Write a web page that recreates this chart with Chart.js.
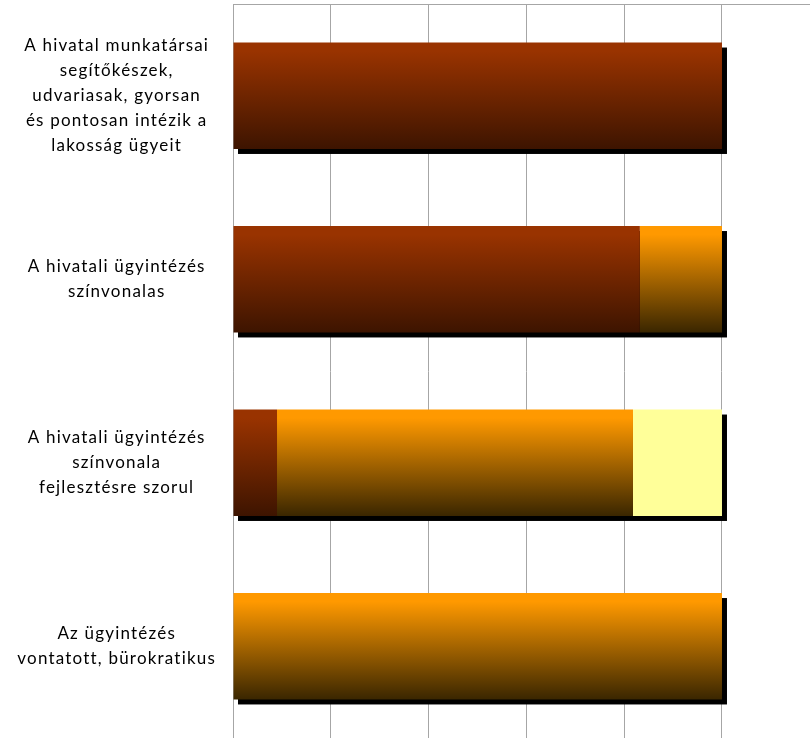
<!DOCTYPE html>
<html>
<head>
<meta charset="utf-8">
<script src="https://cdn.jsdelivr.net/npm/chart.js@4/dist/chart.umd.min.js"></script>
<style>
  html, body { margin: 0; padding: 0; background: #fff; }
  #wrap { width: 810px; height: 738px; position: relative; }
</style>
</head>
<body>
<div id="wrap"><canvas id="myChart"></canvas></div>
<script>
'use strict';

// kategóriák (többsoros címkék)
const categories = [
  ['A hivatal munkatársai', 'segítőkészek,', 'udvariasak, gyorsan', 'és pontosan intézik a', 'lakosság ügyeit'],
  ['A hivatali ügyintézés', 'színvonalas'],
  ['A hivatali ügyintézés', 'színvonala', 'fejlesztésre szorul'],
  ['Az ügyintézés', 'vontatott, bürokratikus']
];

const seriesNames = ['egyetért', 'részben ért egyet', 'nem ért egyet'];
const valuesAgree = [100, 83.2, 9.0, 0];
const valuesPartly = [0, 16.8, 72.8, 100];
const valuesDisagree = [0, 0, 18.2, 0];

const xTicks = [0, 20, 40, 60, 80, 100];

const BAR_PCT = 0.58;
const LETTER_SPACING = '1.2px';

// függőleges színátmenet minden oszlopra külön
let barGradient = (top, bottom) => (ctx) => {
  let chart = ctx.chart;
  if (!chart.chartArea) return top;
  let yScale = chart.scales.y;
  let yc = yScale.getPixelForValue(ctx.dataIndex);
  let h = yScale.height / categories.length * BAR_PCT;
  let g = chart.ctx.createLinearGradient(0, yc - h / 2, 0, yc + h / 2);
  g.addColorStop(0, top);
  g.addColorStop(0.08, top);
  g.addColorStop(1, bottom);
  return g;
};

// fekete árnyék a teljes oszlop mögött
const shadowPlugin = {
  id: 'barShadow',
  beforeLayout(chart) { chart.ctx.letterSpacing = LETTER_SPACING; },
  beforeDraw(chart) { chart.ctx.letterSpacing = LETTER_SPACING; },
  beforeDatasetsDraw(chart) {
    let c = chart.ctx;
    let xs = chart.scales.x;
    let ys = chart.scales.y;
    let h = ys.height / categories.length * BAR_PCT;
    c.save();
    c.fillStyle = '#000';
    for (let i = 0; i < categories.length; i++) {
      let total = valuesAgree[i] + valuesPartly[i] + valuesDisagree[i];
      let x0 = xs.getPixelForValue(0);
      let x1 = xs.getPixelForValue(total);
      let yc = ys.getPixelForValue(i);
      c.fillRect(x0 + 5, yc - h / 2 + 5, x1 - x0, h);
    }
    c.restore();
  }
};

let chartContext = document.getElementById('myChart').getContext('2d');

new Chart(chartContext, {
  type: 'bar',
  data: {
    labels: categories,
    datasets: [
      { label: seriesNames[0], data: valuesAgree, backgroundColor: barGradient('#993300', '#3d1400') },
      { label: seriesNames[1], data: valuesPartly, backgroundColor: barGradient('#ff9900', '#3a2600') },
      { label: seriesNames[2], data: valuesDisagree, backgroundColor: '#ffff99' }
    ]
  },
  options: {
    indexAxis: 'y',
    responsive: true,
    maintainAspectRatio: false,
    animation: false,
    layout: { padding: { top: 4, right: 0, bottom: 0, left: 0 } },
    datasets: {
      bar: {
        barPercentage: BAR_PCT,
        categoryPercentage: 1,
        borderWidth: 0
      }
    },
    plugins: {
      legend: { display: false },
      tooltip: { enabled: false }
    },
    scales: {
      x: {
        position: 'top',
        stacked: true,
        min: 0,
        max: 118,
        afterBuildTicks: (scale) => { scale.ticks = xTicks.map(v => ({ value: v })); },
        afterFit: (scale) => { scale.height = 0; scale.paddingLeft = 0; scale.paddingRight = 0; },
        ticks: { display: false },
        grid: { color: '#a6a6a6', drawTicks: false, lineWidth: 1 },
        border: { display: true, color: '#a6a6a6' }
      },
      y: {
        stacked: true,
        afterFit: (scale) => { scale.width = 233; scale.paddingTop = 0; scale.paddingBottom = 0; },
        grid: { display: false },
        border: { display: true, color: '#a6a6a6' },
        ticks: {
          crossAlign: 'center',
          padding: 9,
          color: '#000',
          font: { family: 'Lato', size: 17, lineHeight: 1.47 },
          autoSkip: false
        }
      }
    }
  },
  plugins: [shadowPlugin]
});
</script>
</body>
</html>
